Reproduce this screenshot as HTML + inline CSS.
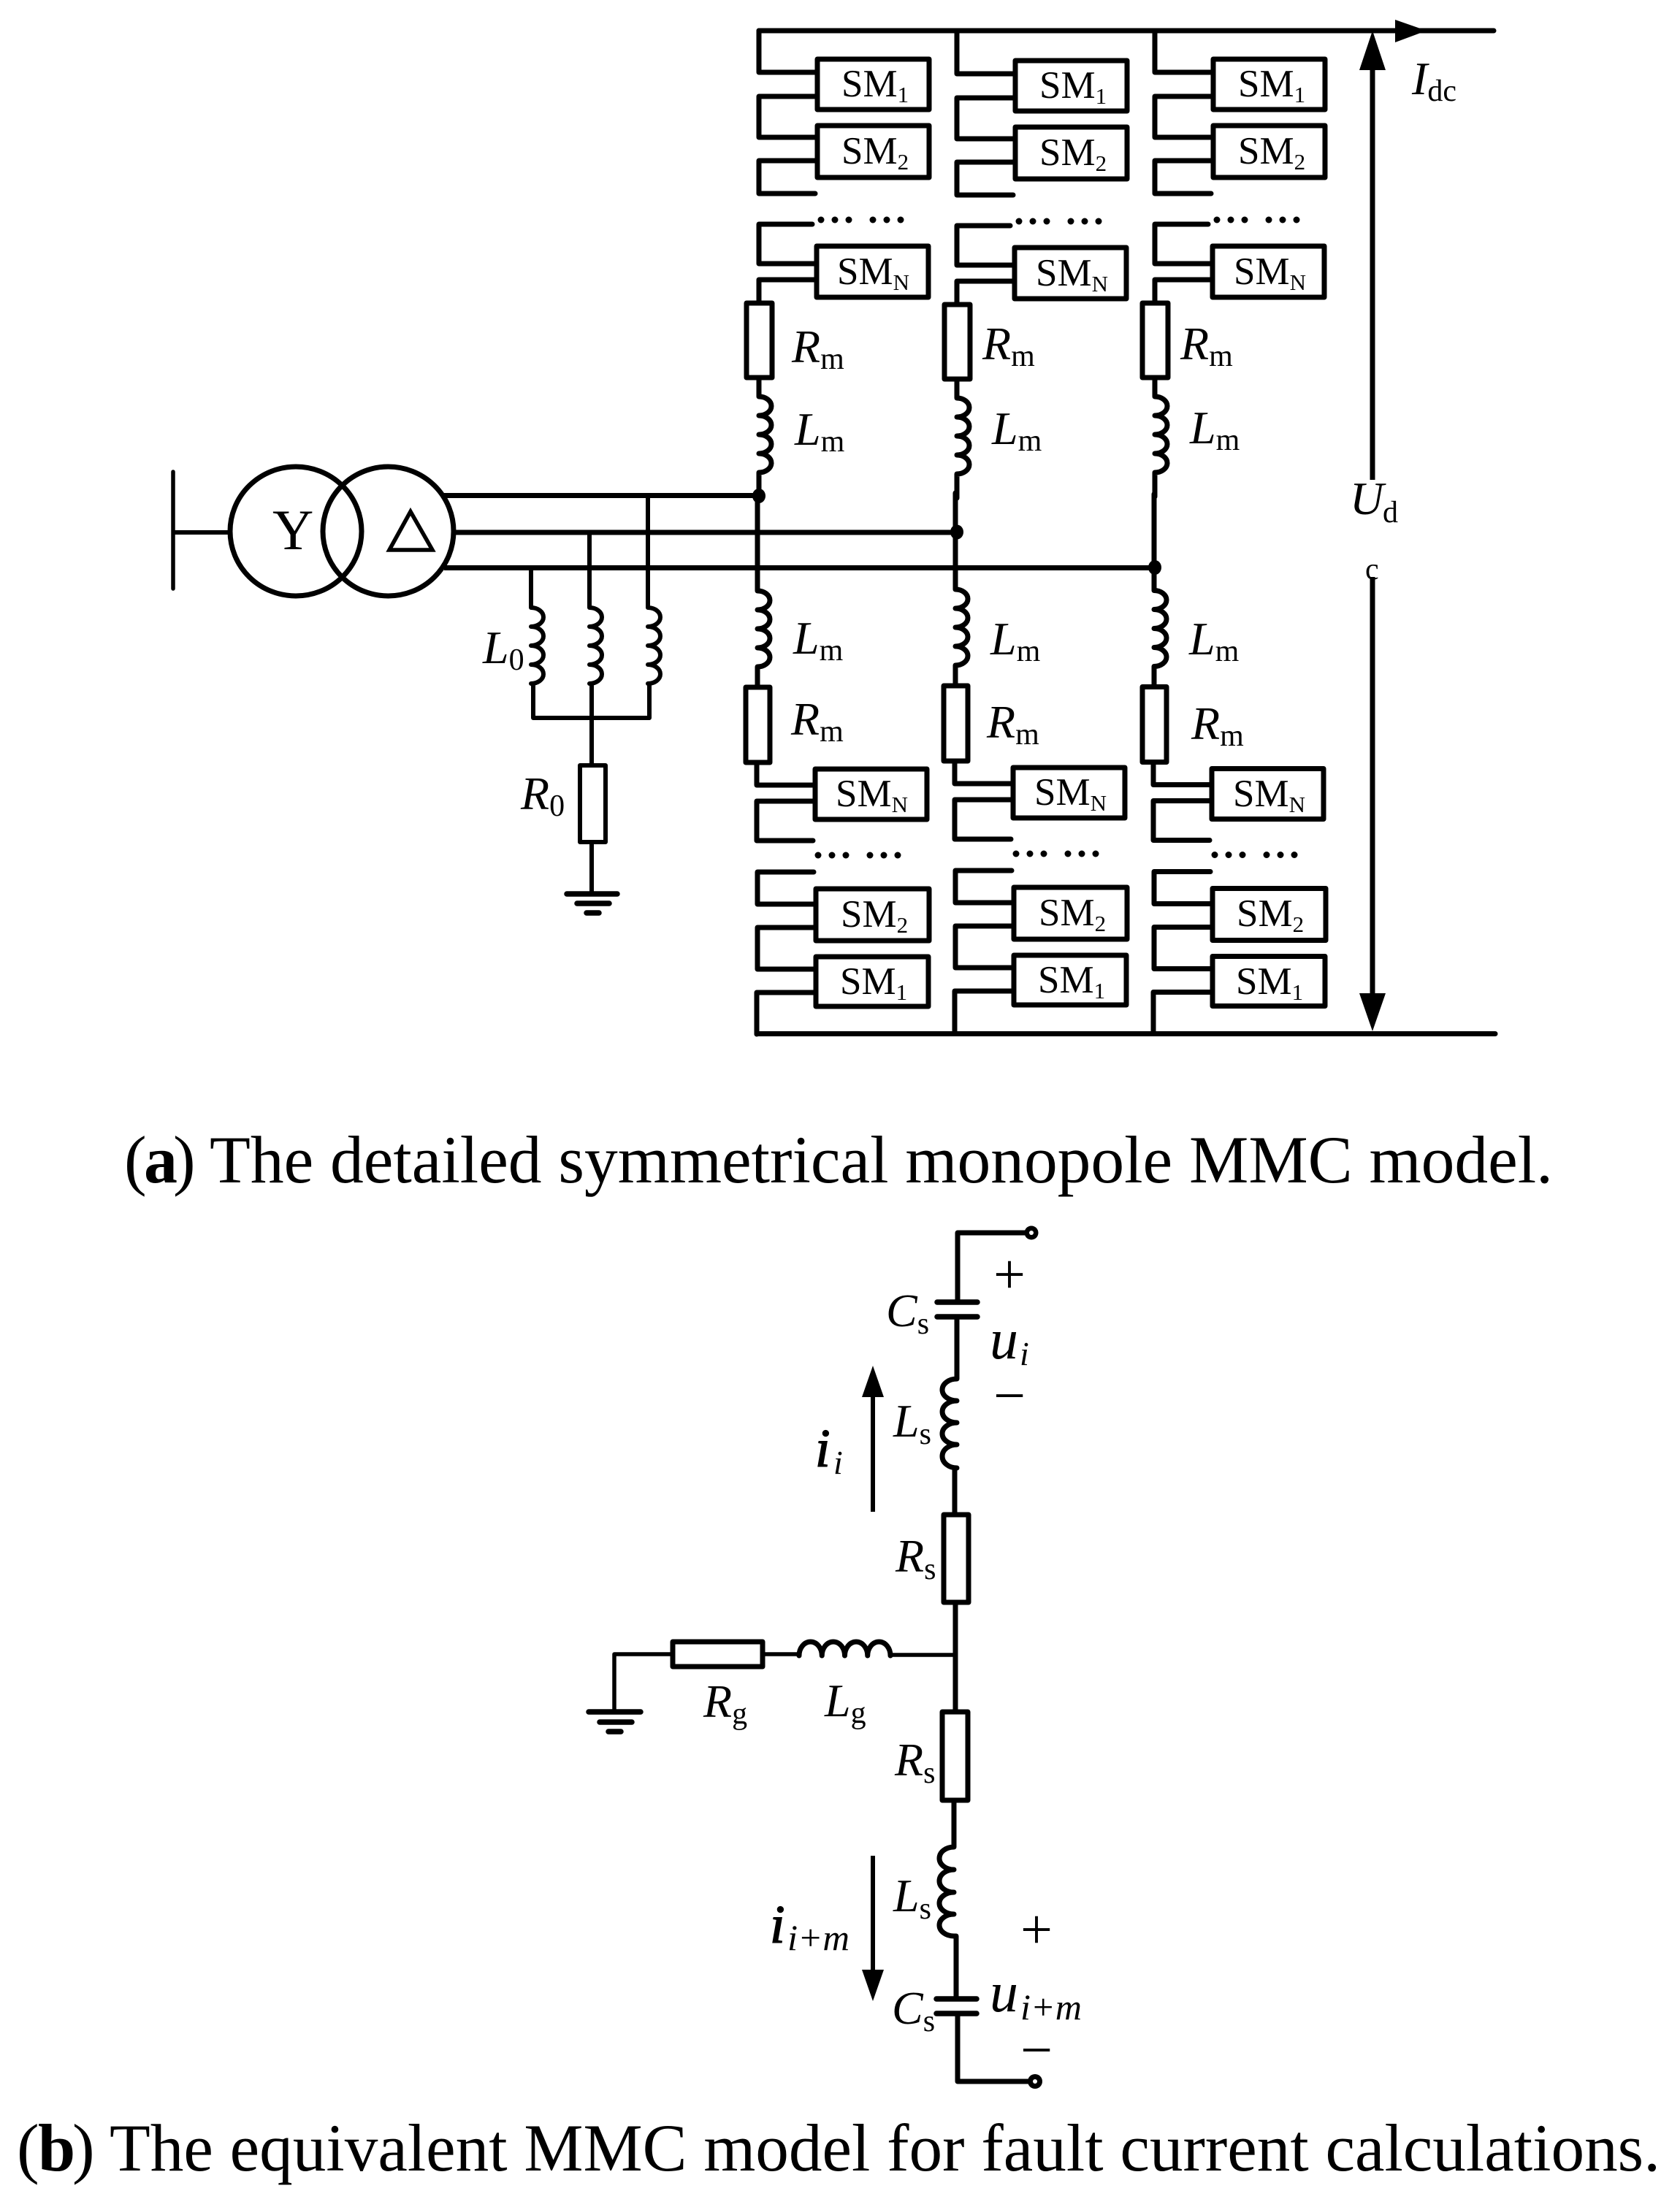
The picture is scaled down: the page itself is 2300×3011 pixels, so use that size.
<!DOCTYPE html>
<html><head><meta charset="utf-8"><style>
html,body{margin:0;padding:0;background:#fff}
svg{display:block}
text{font-family:"Liberation Serif",serif;fill:#000}
.w{fill:none;stroke:#000;stroke-width:7;stroke-linejoin:round;stroke-linecap:round}
.t{stroke-width:5}
.sm{font-size:53px}
.s{font-size:31px}
.it{font-size:64px;font-style:italic}
.sub{font-size:42px;font-style:normal}
.cap{font-size:92px}
</style></head><body>
<svg width="2300" height="3011" viewBox="0 0 2300 3011" xmlns="http://www.w3.org/2000/svg">
<defs>
<g id="dots"><circle cx="0" r="4.5"/><circle cx="19" r="4.5"/><circle cx="38" r="4.5"/><circle cx="71" r="4.5"/><circle cx="90" r="4.5"/><circle cx="109" r="4.5"/></g>
<g id="up">
<path class="w" d="M1039 42V99H1119M1119 132H1039V188H1119M1119 220H1039V265H1116M1112 307H1039V361H1118M1118 383H1039V415M1039 517V543a17 13 0 0 1 0 26a17 13 0 0 1 0 26a17 13 0 0 1 0 26a17 13 0 0 1 0 26V680"/>
<rect class="w" x="1119" y="81" width="153" height="69"/>
<rect class="w" x="1119" y="172" width="153" height="71"/>
<rect class="w" x="1118" y="337" width="153" height="70"/>
<rect class="w" x="1022" y="415" width="35" height="102"/>
<use href="#dots" x="1124" y="301"/>
</g>
<g id="lo">
<path class="w" d="M1037 677V809a17 13 0 0 1 0 26a17 13 0 0 1 0 26a17 13 0 0 1 0 26a17 13 0 0 1 0 26V941M1036 1044V1075H1116M1116 1097H1036V1151H1113M1114 1194H1037V1238H1117M1117 1270H1037V1327H1117M1117 1359H1036V1416"/>
<rect class="w" x="1116" y="1053" width="153" height="69"/>
<rect class="w" x="1117" y="1217" width="155" height="71"/>
<rect class="w" x="1117" y="1310" width="154" height="68"/>
<rect class="w" x="1021" y="941" width="33" height="103"/>
<use href="#dots" x="1120" y="1171"/>
</g>
</defs>

<!-- DC buses -->
<path class="w" d="M1039 42H2045M1036 1415.5H2047"/>
<polygon points="1910,27 1953,42 1910,58"/>
<path class="w" style="stroke-linecap:butt" d="M1879 96V657M1879 790V1360"/>
<polygon points="1879,42 1861,96 1897,96"/>
<polygon points="1861,1360 1897,1360 1879,1412"/>

<!-- arms -->
<use href="#up"/>
<use href="#up" transform="translate(271,2)"/>
<use href="#up" transform="translate(542,0)"/>
<use href="#lo"/>
<use href="#lo" transform="translate(271,-2)"/>
<use href="#lo" transform="translate(543,-0.5)"/>

<!-- AC side -->
<path class="w" style="stroke-width:5.5" d="M237 646V806"/>
<path class="w" style="stroke-width:6;stroke-linecap:butt" d="M237 729H315"/>
<ellipse class="w" cx="405" cy="727.5" rx="90" ry="88.5" style="stroke-width:7"/>
<ellipse class="w" cx="531.5" cy="727.5" rx="89.5" ry="88.5" style="stroke-width:7"/>
<polygon points="562,700.5 533,753 592,753" style="fill:none;stroke:#000;stroke-width:5.5;stroke-linejoin:miter"/>
<path class="w" style="stroke-linecap:butt" d="M608 678.5H1039M620 729H1310M608 777.5H1581"/>
<ellipse cx="1039" cy="679" rx="9" ry="10"/>
<ellipse cx="1310" cy="728.5" rx="9" ry="10"/>
<ellipse cx="1581" cy="777" rx="9" ry="10"/>
<path class="w" style="stroke-width:6" d="M727 778V832a17 13 0 0 1 0 26a17 13 0 0 1 0 26a17 13 0 0 1 0 26a17 13 0 0 1 0 26H730V983H889V937M807 729V832a17 13 0 0 1 0 26a17 13 0 0 1 0 26a17 13 0 0 1 0 26a17 13 0 0 1 0 26H810V1048M887 679V832a17 13 0 0 1 0 26a17 13 0 0 1 0 26a17 13 0 0 1 0 26a17 13 0 0 1 0 26H889"/>
<rect class="w" x="794" y="1048" width="35" height="105" style="stroke-width:6"/>
<path class="w" style="stroke-width:6" d="M810 1153V1224"/>
<path class="w" style="stroke-width:7.5" d="M776 1224H845M790 1237H834M803 1250H820"/>

<!-- SM labels upper -->
<text class="sm" x="1152" y="132">SM<tspan class="s" dy="8">1</tspan></text>
<text class="sm" x="1152" y="224">SM<tspan class="s" dy="8">2</tspan></text>
<text class="sm" x="1146" y="389">SM<tspan class="s" dy="8">N</tspan></text>
<text class="sm" x="1423" y="134">SM<tspan class="s" dy="8">1</tspan></text>
<text class="sm" x="1423" y="226">SM<tspan class="s" dy="8">2</tspan></text>
<text class="sm" x="1418" y="391">SM<tspan class="s" dy="8">N</tspan></text>
<text class="sm" x="1695" y="132">SM<tspan class="s" dy="8">1</tspan></text>
<text class="sm" x="1695" y="224">SM<tspan class="s" dy="8">2</tspan></text>
<text class="sm" x="1689" y="389">SM<tspan class="s" dy="8">N</tspan></text>
<!-- SM labels lower -->
<text class="sm" x="1144" y="1104">SM<tspan class="s" dy="8">N</tspan></text>
<text class="sm" x="1416" y="1102">SM<tspan class="s" dy="8">N</tspan></text>
<text class="sm" x="1688" y="1104">SM<tspan class="s" dy="8">N</tspan></text>
<text class="sm" x="1151" y="1269">SM<tspan class="s" dy="8">2</tspan></text>
<text class="sm" x="1422" y="1267">SM<tspan class="s" dy="8">2</tspan></text>
<text class="sm" x="1693" y="1268">SM<tspan class="s" dy="8">2</tspan></text>
<text class="sm" x="1150" y="1361">SM<tspan class="s" dy="8">1</tspan></text>
<text class="sm" x="1421" y="1359">SM<tspan class="s" dy="8">1</tspan></text>
<text class="sm" x="1692" y="1361">SM<tspan class="s" dy="8">1</tspan></text>

<!-- R/L labels -->
<text class="it" x="1084" y="496">R<tspan class="sub" dy="9">m</tspan></text>
<text class="it" x="1345" y="492">R<tspan class="sub" dy="9">m</tspan></text>
<text class="it" x="1616" y="492">R<tspan class="sub" dy="9">m</tspan></text>
<text class="it" x="1088" y="609">L<tspan class="sub" dy="9">m</tspan></text>
<text class="it" x="1358" y="608">L<tspan class="sub" dy="9">m</tspan></text>
<text class="it" x="1629" y="607">L<tspan class="sub" dy="9">m</tspan></text>
<text class="it" x="1086" y="895">L<tspan class="sub" dy="9">m</tspan></text>
<text class="it" x="1356" y="896">L<tspan class="sub" dy="9">m</tspan></text>
<text class="it" x="1628" y="896">L<tspan class="sub" dy="9">m</tspan></text>
<text class="it" x="1083" y="1006">R<tspan class="sub" dy="9">m</tspan></text>
<text class="it" x="1351" y="1010">R<tspan class="sub" dy="9">m</tspan></text>
<text class="it" x="1631" y="1012">R<tspan class="sub" dy="9">m</tspan></text>

<text class="it" x="1933" y="129">I<tspan class="sub" dy="9">dc</tspan></text>
<text class="it" x="1848" y="704">U</text>
<text class="sub" x="1893" y="715">d</text>
<text class="sub" x="1869" y="793">c</text>
<text x="373" y="752" style="font-size:78px">Y</text>
<text class="it" x="661" y="908">L<tspan class="sub" dy="9">0</tspan></text>
<text class="it" x="713" y="1108">R<tspan class="sub" dy="9">0</tspan></text>

<!-- caption a -->
<text class="cap" x="170" y="1619">(</text>
<text class="cap" x="197" y="1619" style="font-weight:bold">a</text>
<text class="cap" x="237" y="1619">)</text>
<text class="cap" x="287" y="1619" textLength="1839" lengthAdjust="spacingAndGlyphs">The detailed symmetrical monopole MMC model.</text>

<!-- part b -->
<path class="w" d="M1412 1688H1311V1783M1310 1803V1888a20 15 0 0 0 0 30a20 15 0 0 0 0 30a20 15 0 0 0 0 30a20 16 0 0 0 0 32H1307V2074M1308 2194V2344M1306 2465V2529a20 15.5 0 0 0 0 31a20 15.5 0 0 0 0 31a20 15 0 0 0 0 30a20 15 0 0 0 0 30H1309V2737M1311 2757V2850H1417"/>
<path class="w" style="stroke-width:7.5" d="M1283 1783H1338M1283 1803H1338M1282 2737H1337M1282 2757H1337"/>
<circle cx="1412" cy="1688" r="9.5"/><circle cx="1412" cy="1688" r="3" fill="#fff"/>
<circle cx="1417" cy="2850" r="10"/><circle cx="1417" cy="2850" r="3" fill="#fff"/>
<rect class="w" x="1292" y="2074" width="34" height="120"/>
<rect class="w" x="1290" y="2344" width="35" height="121"/>
<path class="w" style="stroke-width:5.5" d="M1219 2266H1308M1044 2265H1094M921 2265H841V2344"/>
<path class="w" d="M1094 2267a15.6 19 0 0 1 31.25 0a15.6 19 0 0 1 31.25 0a15.6 19 0 0 1 31.25 0a15.6 19 0 0 1 31.25 0"/>
<rect class="w" x="921" y="2248" width="123" height="34"/>
<path class="w" style="stroke-width:7.5" d="M806 2344H877M821 2358H865M833 2371H850"/>
<path class="w" style="stroke-width:6;stroke-linecap:butt" d="M1195 2070V1913M1195 2541V2697"/>
<polygon points="1195,1870 1180,1913 1210,1913"/>
<polygon points="1180,2697 1210,2697 1195,2740"/>

<text x="1382" y="1771" text-anchor="middle" style="font-size:78px">+</text>
<text x="1382" y="1937" text-anchor="middle" style="font-size:78px">−</text>
<text x="1419" y="2668" text-anchor="middle" style="font-size:78px">+</text>
<text x="1419" y="2833" text-anchor="middle" style="font-size:78px">−</text>
<text class="it" x="1355" y="1860" style="font-size:78px">u</text>
<text class="it" x="1396" y="1869" style="font-size:46px">i</text>
<text class="it" x="1355" y="2754" style="font-size:78px">u</text>
<text class="it" x="1397" y="2765" style="font-size:50px" textLength="84" lengthAdjust="spacingAndGlyphs">i+m</text>
<text class="it" x="1116" y="2008" style="font-size:74px;stroke:#000;stroke-width:1.5">i</text>
<text class="it" x="1141" y="2018" style="font-size:46px">i</text>
<text class="it" x="1054" y="2660" style="font-size:74px;stroke:#000;stroke-width:1.5">i</text>
<text class="it" x="1078" y="2670" style="font-size:50px" textLength="85" lengthAdjust="spacingAndGlyphs">i+m</text>
<text class="it" x="1213" y="1816">C<tspan class="sub" dy="10">s</tspan></text>
<text class="it" x="1223" y="1967">L<tspan class="sub" dy="10">s</tspan></text>
<text class="it" x="1226" y="2152">R<tspan class="sub" dy="10">s</tspan></text>
<text class="it" x="963" y="2351">R<tspan class="sub" dy="9">g</tspan></text>
<text class="it" x="1129" y="2350">L<tspan class="sub" dy="9">g</tspan></text>
<text class="it" x="1225" y="2431">R<tspan class="sub" dy="10">s</tspan></text>
<text class="it" x="1223" y="2617">L<tspan class="sub" dy="10">s</tspan></text>
<text class="it" x="1221" y="2771">C<tspan class="sub" dy="10">s</tspan></text>

<!-- caption b -->
<text class="cap" x="23" y="2972">(</text>
<text class="cap" x="52" y="2972" style="font-weight:bold">b</text>
<text class="cap" x="99" y="2972">)</text>
<text class="cap" x="150" y="2972" textLength="2123" lengthAdjust="spacingAndGlyphs">The equivalent MMC model for fault current calculations.</text>
</svg>
</body></html>
